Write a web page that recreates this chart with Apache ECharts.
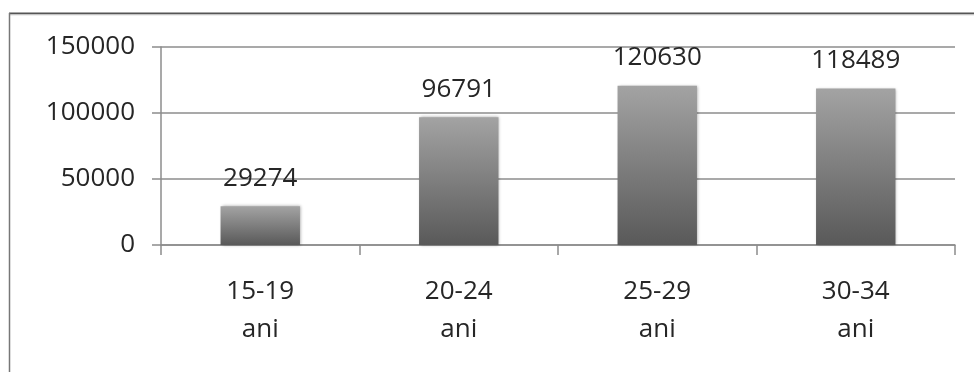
<!DOCTYPE html>
<html>
<head>
<meta charset="utf-8">
<script src="https://cdn.jsdelivr.net/npm/echarts@6/dist/echarts.min.js"></script>
<style>
  html, body { margin: 0; padding: 0; background: #ffffff; }
  #chart { width: 974px; height: 372px; }
</style>
</head>
<body>
<div id="chart"></div>
<script>
// Age groups and counts
const categories = ['15-19\nani', '20-24\nani', '25-29\nani', '30-34\nani'];
const values = [29274, 96791, 120630, 118489];
const yTicks = { min: 0, max: 150000, interval: 50000 };

const chart = echarts.init(document.getElementById('chart'), null, { renderer: 'canvas' });
const font = '"Open Sans", "Liberation Sans", sans-serif';

chart.setOption({
  animation: false,
  backgroundColor: '#ffffff',
  graphic: [
    // frame around the chart area
    { type: 'line', shape: { x1: 9, y1: 13.5, x2: 974, y2: 13.5 }, style: { stroke: '#555555', lineWidth: 2 } },
    { type: 'line', shape: { x1: 9, y1: 15, x2: 974, y2: 15 }, style: { stroke: '#dddddd', lineWidth: 1 } },
    { type: 'line', shape: { x1: 9.5, y1: 13, x2: 9.5, y2: 372 }, style: { stroke: '#777777', lineWidth: 1.5 } }
  ],
  grid: { left: 161, right: 19, top: 47, bottom: 127, containLabel: false },
  xAxis: {
    type: 'category',
    data: categories,
    boundaryGap: true,
    axisLine: { show: true, lineStyle: { color: '#8c8c8c', width: 1.5 } },
    axisTick: { show: true, alignWithLabel: false, length: 10, lineStyle: { color: '#8c8c8c', width: 1.5 } },
    axisLabel: { color: '#262626', fontSize: 26, fontFamily: font, lineHeight: 38, margin: 28, interval: 0 }
  },
  yAxis: {
    type: 'value',
    min: yTicks.min,
    max: yTicks.max,
    interval: yTicks.interval,
    axisLine: { show: true, lineStyle: { color: '#8c8c8c', width: 1.5 } },
    axisTick: { show: true, length: 9, lineStyle: { color: '#8c8c8c', width: 1.5 } },
    splitLine: { show: true, lineStyle: { color: '#8c8c8c', width: 1.5 } },
    axisLabel: {
      color: '#262626', fontSize: 26, fontFamily: font, margin: 26,
      formatter: v => String(v)
    }
  },
  series: [{
    type: 'bar',
    data: values,
    barWidth: '40%',
    itemStyle: {
      color: new echarts.graphic.LinearGradient(0, 0, 0, 1, [
        { offset: 0, color: '#a3a3a3' },
        { offset: 1, color: '#595959' }
      ]),
      shadowColor: 'rgba(0,0,0,0.35)',
      shadowBlur: 3,
      shadowOffsetX: 1,
      shadowOffsetY: 0
    },
    label: {
      show: true,
      position: 'top',
      distance: 15,
      color: '#262626',
      fontSize: 26,
      fontFamily: font
    }
  }]
});
</script>
</body>
</html>
